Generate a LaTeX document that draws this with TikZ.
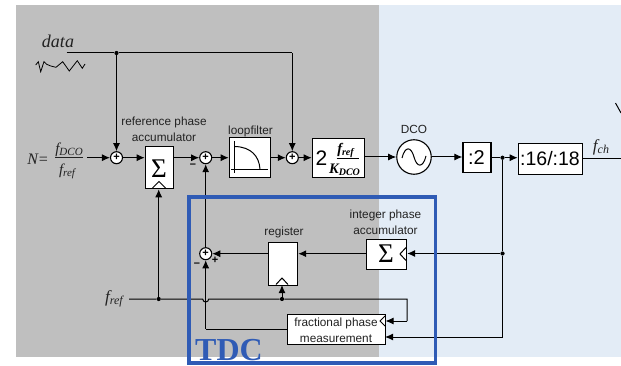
\documentclass[tikz,border=0pt]{standalone}
\usepackage{fontspec}
\setmainfont{Liberation Sans}
\newfontfamily\tms{Liberation Serif}
\usetikzlibrary{arrows.meta}
\definecolor{greybg}{HTML}{BFBFBF}
\definecolor{bluebg}{HTML}{E3ECF6}
\definecolor{tdc}{HTML}{2F5BB5}
\definecolor{lab}{HTML}{222222}
\tikzset{
  wire/.style={line width=1pt,black},
  arr/.style={wire,-{Latex[length=8pt,width=7pt]}},
  shapeline/.style={line width=1pt,black},
  blockbox/.style={draw=black,fill=white,line width=1.2pt,inner sep=0pt,anchor=north west},
  lbl/.style={font=\fontsize{11.8}{16}\selectfont,text=lab,align=center,inner sep=0pt},
  blk/.style={font=\fontsize{19}{19}\selectfont,text=black,inner sep=0pt},
  mth/.style={font=\tms\itshape\fontsize{15}{16}\selectfont,text=lab,inner sep=0pt},
  sigm/.style={font=\tms\fontsize{27}{27}\selectfont,inner sep=0pt},
  sumnode/.style={circle,draw=black,fill=white,line width=1.1pt,minimum size=12pt,inner sep=0pt,font=\fontsize{11}{11}\selectfont\bfseries},
  dotn/.style={circle,fill=black,minimum size=4.2pt,inner sep=0pt},
  sgn/.style={font=\fontsize{11}{11}\selectfont\bfseries,inner sep=0pt},
}
\begin{document}
\begin{tikzpicture}[x=1pt,y=-1pt]
\useasboundingbox (0,0) rectangle (621,366);
\fill[bluebg] (379,5) rectangle (621,357);
\fill[greybg] (16,5) rectangle (379,357);

% blocks
\node[blockbox,minimum width=28.3pt,minimum height=42.5pt] (refacc) at (144.7,145.6) {};
\node[sigm] (refsig) at (159,168.5) {Σ};
\draw[shapeline] (152.5,188) -- (159,181.5) -- (165.5,188);
\node[blockbox,minimum width=41.3pt,minimum height=40pt] (lf) at (228.7,137) {};
\draw[shapeline] (231,169.5) -- (268,169.5);
\draw[shapeline] (234.7,141) -- (234.7,173);
\draw[shapeline] (235,146.5) .. controls (251,147) and (259,156) .. (260,169);
\node[blockbox,minimum width=52.3pt,minimum height=39.3pt] (gain) at (311.7,137.7) {};
\node[blk,font=\fontsize{21}{21}\selectfont] (two) at (321.5,158.5) {2};
\draw[shapeline] (336.5,159) -- (359,159);
\node[font=\tms\bfseries\itshape\fontsize{14.5}{14}\selectfont,inner sep=0pt] (fr2) at (345.5,150.5) {f\raisebox{-2pt}{\fontsize{10}{10}\selectfont ref}};
\node[font=\tms\bfseries\itshape\fontsize{14.5}{14}\selectfont,inner sep=0pt] (kd) at (344.5,169.5) {K\raisebox{-2pt}{\fontsize{10}{10}\selectfont DCO}};
\node[circle,draw=black,fill=white,line width=1.1pt,minimum size=34.5pt,inner sep=0pt] (dco) at (414,157) {};
\draw[shapeline] (402,158) .. controls (405,146) and (411,146) .. (414,157) .. controls (417,168) and (423,168) .. (426,156);
\node[blockbox,minimum width=28pt,minimum height=30pt] (d2) at (462.3,142.3) {};
\node[blk,font=\fontsize{20}{20}\selectfont] (d2t) at (476.5,157.5) {:2};
\node[blockbox,minimum width=64pt,minimum height=30.7pt] (d16) at (517.7,143.3) {};
\node[blk,font=\fontsize{19.5}{20}\selectfont] (d16t) at (550,159) {:16/:18};
\node[blockbox,minimum width=40pt,minimum height=30.3pt] (intacc) at (366,238.7) {};
\node[sigm] (intsig) at (386,253.5) {Σ};
\draw[shapeline] (406,247.5) -- (400,254) -- (406,260.5);
\node[blockbox,minimum width=29pt,minimum height=43pt] (reg) at (268,241.7) {};
\draw[shapeline] (276,284.5) -- (282,278) -- (288,284.5);
\node[blockbox,minimum width=98pt,minimum height=30pt] (frac) at (287,314) {};
\draw[shapeline] (385,316) -- (380,321) -- (385,326);

% sums
\node[sumnode] (s1) at (116.5,157.7) {+};
\node[sumnode] (s2) at (205.7,157.7) {+};
\node[sumnode] (s3) at (292.3,157.7) {+};
\node[sumnode] (s4) at (205.7,253.7) {+};
\node[sgn] (m1) at (193,166) {–};
\node[sgn] (m2) at (197,264.7) {–};
\node[sgn] (p2) at (215,260) {+};

% junctions and free ends
\node[dotn] (jd) at (116.5,53) {};
\node[dotn] (jf1) at (158.7,299) {};
\node[dotn] (jf2) at (282,299) {};
\node[dotn] (jc) at (502.5,157.7) {};
\node[dotn] (jv) at (502.5,253.5) {};
\coordinate (dstart) at (66.7,53);
\coordinate (dcorner) at (292.3,53);
\coordinate (nstart) at (87,157.7);
\coordinate (fstart) at (129,299);
\coordinate (fc1) at (407,299);
\coordinate (fc2) at (407,321);
\coordinate (fa) at (385.5,321);
\coordinate (vb) at (502.5,337);
\coordinate (fb) at (385,337);
\coordinate (fout) at (621,158.7);
\coordinate (ta) at (205.7,329);

% connectors
\draw[wire] (dstart) -- (jd) -- (dcorner);
\draw[arr] (dcorner) -- (s3);
\draw[arr] (jd) -- (s1);
\draw[arr] (nstart) -- (s1);
\draw[arr] (s1) -- (refacc.west |- s1);
\draw[arr] (refacc.east |- s2) -- (s2);
\draw[arr] (s2) -- (lf.west |- s2);
\draw[arr] (lf.east |- s3) -- (s3);
\draw[arr] (s3) -- (gain.west |- s3);
\draw[arr] (gain.east |- dco) -- (dco);
\draw[arr] (dco) -- (d2.west |- dco);
\draw[wire] (d2.east |- jc) -- (jc);
\draw[arr] (jc) -- (d16.west |- jc);
\draw[wire] (d16.east |- fout) -- (fout);
\draw[wire] (jc) -- (jv) -- (vb);
\draw[arr] (vb) -- (fb);
\draw[arr] (jv) -- (intacc.east |- jv);
\draw[arr] (intacc.west |- s4) -- (reg.east |- s4);
\draw[arr] (reg.west |- s4) -- (s4);
\draw[arr] (s4) -- (s2);
\draw[wire] (fstart) -- (jf1) -- (202.7,299) arc[start angle=180,end angle=0,radius=3] -- (jf2) -- (fc1) -- (fc2);
\draw[arr] (fc2) -- (fa);
\draw[arr] (jf1) -- (refacc.south -| jf1);
\draw[arr] (jf2) -- (282,285);
\draw[wire] (frac.west |- ta) -- (ta);
\draw[arr] (ta) -- (s4);

% free line top right
\draw[shapeline] (615.5,103) -- (621,113);

% labels
\node[mth,font=\tms\itshape\fontsize{18}{18}\selectfont] (ldata) at (58,41) {data};
\draw[line width=0.8pt] (35.7,65) -- (38.3,61.7) -- (40.7,71.7) -- (44,61.7) -- (46.7,64.3) -- (50.7,66) -- (56,67.3) -- (62.7,61.7) -- (69.3,71) -- (77.3,60.7) -- (82.3,68.3) -- (85,64);
\node[lbl] (lref) at (164,129) {reference phase\\accumulator};
\node[lbl] (llf) at (250.5,131) {loopfilter};
\node[lbl] (ldco) at (414,129) {DCO};
\node[lbl] (lreg) at (284,232) {register};
\node[lbl] (lint) at (385.5,222) {integer phase\\accumulator};
\node[lbl] (lfrac) at (336,330) {fractional phase\\measurement};
\node[mth,font=\tms\itshape\fontsize{16}{16}\selectfont] (lN) at (38,159.5) {N=};
\node[mth] (fd) at (69,149.5) {f\raisebox{-2pt}{\fontsize{11}{11}\selectfont DCO}};
\draw[line width=1pt,draw=lab] (55,158) -- (83,158);
\node[mth] (frf) at (67,171) {f\raisebox{-2pt}{\fontsize{11}{11}\selectfont ref}};
\node[mth,font=\tms\itshape\fontsize{17}{17}\selectfont] (lfch) at (601,147) {f\raisebox{-2pt}{\fontsize{12}{12}\selectfont ch}};
\node[mth,font=\tms\itshape\fontsize{17}{17}\selectfont] (lfr) at (114,299) {f\raisebox{-2pt}{\fontsize{12}{12}\selectfont ref}};

% TDC frame
\draw[tdc,line width=3.5pt] (189,197) rectangle (435.5,363);
\node[font=\tms\bfseries\fontsize{32}{32}\selectfont,text=tdc,inner sep=0pt] (ltdc) at (229,350) {TDC};
\end{tikzpicture}
\end{document}
